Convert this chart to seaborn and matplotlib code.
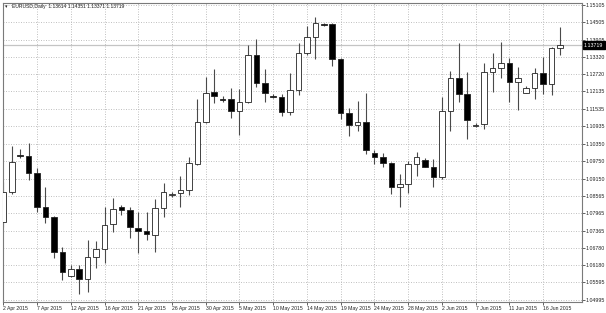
import numpy as np
import pandas as pd
import matplotlib
matplotlib.use("Agg")
import matplotlib.pyplot as plt
import matplotlib.transforms as mtransforms
import seaborn as sns

# ---------------- data (EURUSD daily, 2 Apr 2015 - 18 Jun 2015) ----------------
opens = [1.07665, 1.08692, 1.09959, 1.09925, 1.09342, 1.08178, 1.07836, 1.06637, 1.05816, 1.06055,
         1.05713, 1.06466, 1.06740, 1.07596, 1.08178, 1.08076, 1.07459, 1.07356, 1.07220, 1.08144,
         1.08589, 1.08658, 1.08760, 1.09651, 1.11089, 1.12116, 1.11876, 1.11876, 1.11465, 1.11773,
         1.13383, 1.12424, 1.11979, 1.11945, 1.11431, 1.12184, 1.13451, 1.13999, 1.14444, 1.14444,
         1.13246, 1.11397, 1.10986, 1.11089, 1.10027, 1.09890, 1.09685, 1.08863, 1.08966, 1.09651,
         1.09788, 1.09548, 1.09205, 1.11465, 1.12595, 1.12047, 1.10952, 1.11020, 1.12801, 1.12938,
         1.13109, 1.12458, 1.12082, 1.12253, 1.12766, 1.12390, 1.13614]
highs = [1.09034, 1.10267, 1.10164, 1.10370, 1.09514, 1.08863, 1.07870, 1.06809, 1.06192, 1.06192,
         1.07048, 1.07014, 1.08178, 1.08486, 1.08247, 1.08178, 1.08007, 1.08007, 1.08452, 1.09000,
         1.08692, 1.09240, 1.09890, 1.11876, 1.12629, 1.12903, 1.11979, 1.12253, 1.12219, 1.13725,
         1.13931, 1.12903, 1.12047, 1.12047, 1.12766, 1.13794, 1.14376, 1.14684, 1.14478, 1.14470,
         1.13280, 1.11568, 1.11808, 1.12082, 1.10130, 1.10027, 1.09719, 1.09308, 1.09753, 1.10061,
         1.09856, 1.09822, 1.11945, 1.12835, 1.13794, 1.12801, 1.11054, 1.13109, 1.13451, 1.13828,
         1.13280, 1.12972, 1.12321, 1.12938, 1.13314, 1.13640, 1.14351]
lows = [1.07493, 1.08623, 1.09856, 1.09103, 1.08007, 1.07630, 1.06432, 1.05679, 1.05781, 1.05199,
        1.05268, 1.06090, 1.06261, 1.07322, 1.07904, 1.07117, 1.06603, 1.07048, 1.06637, 1.07836,
        1.08521, 1.08178, 1.08589, 1.09616, 1.11054, 1.11739, 1.11773, 1.11226, 1.10644, 1.11739,
        1.12287, 1.11773, 1.11910, 1.11294, 1.11328, 1.12013, 1.13383, 1.13246, 1.14376, 1.13006,
        1.11191, 1.10609, 1.10781, 1.09993, 1.09651, 1.09548, 1.08623, 1.08178, 1.08658, 1.09240,
        1.09548, 1.08863, 1.09137, 1.10781, 1.11773, 1.10507, 1.10917, 1.10849, 1.12116, 1.12595,
        1.11773, 1.11500, 1.12070, 1.11876, 1.12047, 1.12013, 1.13371]
closes = [1.08692, 1.09719, 1.09925, 1.09342, 1.08178, 1.07836, 1.06637, 1.05953, 1.06055, 1.05713,
          1.06466, 1.06740, 1.07562, 1.08110, 1.08076, 1.07493, 1.07356, 1.07254, 1.08144, 1.08692,
          1.08623, 1.08760, 1.09685, 1.11089, 1.12082, 1.11979, 1.11842, 1.11465, 1.11773, 1.13383,
          1.12424, 1.12082, 1.11945, 1.11431, 1.12184, 1.13451, 1.13999, 1.14478, 1.14410, 1.13246,
          1.11397, 1.10986, 1.11089, 1.10130, 1.09890, 1.09685, 1.08863, 1.08966, 1.09651, 1.09890,
          1.09560, 1.09205, 1.11465, 1.12595, 1.12047, 1.11157, 1.10986, 1.12801, 1.12938, 1.13109,
          1.12458, 1.12595, 1.12253, 1.12766, 1.12390, 1.13622, 1.13719]

date_tick_bars = [0, 4, 8, 12, 16, 20, 24, 28, 32, 36, 40, 44, 48, 52, 56, 60, 64]
date_tick_labels = ["2 Apr 2015", "7 Apr 2015", "12 Apr 2015", "16 Apr 2015", "21 Apr 2015",
                    "26 Apr 2015", "30 Apr 2015", "5 May 2015", "10 May 2015", "14 May 2015",
                    "19 May 2015", "24 May 2015", "28 May 2015", "2 Jun 2015", "7 Jun 2015",
                    "11 Jun 2015", "16 Jun 2015"]
price_ticks = [1.15105, 1.14505, 1.13905, 1.13320, 1.12720, 1.12135, 1.11535, 1.10935, 1.10350,
               1.09750, 1.09150, 1.08565, 1.07965, 1.07365, 1.06780, 1.06180, 1.05595, 1.04995]
symbol_label = "EURUSD,Daily"

df = pd.DataFrame({"open": opens, "high": highs, "low": lows, "close": closes})
df["bar"] = np.arange(len(df))
df["bull"] = df["close"] >= df["open"]
df["body_lo"] = df[["open", "close"]].min(axis=1)
df["body_h"] = (df["close"] - df["open"]).abs()

# ---------------- style ----------------
sns.set_theme(style="white")
plt.rcParams["font.family"] = ["Liberation Sans", "DejaVu Sans"]

W, H = 606, 313
fig = plt.figure(figsize=(W / 100, H / 100), dpi=100)
fig.patch.set_facecolor("white")
left, right, top, bottom = 2.7, 581.7, 2.7, 301.7
ax = fig.add_axes([left / W, 1 - bottom / H, (right - left) / W, (bottom - top) / H])
ax.set_facecolor("white")

# grid
ax.set_axisbelow(True)
ax.grid(True, color="#b8b8b8", linestyle=(0, (1.2, 1.8)), linewidth=0.6)

# last price line
ax.axhline(closes[-1], color="#c4c4c4", linewidth=0.9, zorder=1)

# wicks
ax.vlines(df["bar"], df["low"], df["high"], color="#4a4a4a", linewidth=0.8, zorder=2)
# bodies
colors = np.where(df["bull"], "white", "black")
ax.bar(df["bar"], df["body_h"], bottom=df["body_lo"], width=0.66,
       color=colors, edgecolor="#222222", linewidth=0.6, zorder=3)

ax.set_xlim(-0.07, 68.57)
ax.set_ylim(1.04936, 1.15173)

# axes formatting
ax.set_xticks(date_tick_bars)
ax.set_xticklabels(date_tick_labels, ha="left")
ax.set_yticks(price_ticks)
ax.set_yticklabels([f"{v:.5f}" for v in price_ticks])
ax.yaxis.tick_right()
ax.tick_params(axis="y", which="both", right=True, left=False, length=2, width=0.5,
               pad=1, labelsize=3.8, colors="#222222")
ax.tick_params(axis="x", which="both", bottom=True, length=2, width=0.5,
               pad=1, labelsize=3.7, colors="#222222")
for s in ax.spines.values():
    s.set_visible(True)
    s.set_color("#7a7a7a")
    s.set_linewidth(0.8)

# last price box
trans = mtransforms.blended_transform_factory(ax.transAxes, ax.transData)
ax.text(1.004, closes[-1], f"{closes[-1]:.5f}", transform=trans, ha="left", va="center",
        fontsize=3.8, color="white", zorder=10, clip_on=False,
        bbox=dict(boxstyle="square,pad=0.25", facecolor="black", edgecolor="black"))

# header
header = f"{symbol_label}  {opens[-1]:.5f} {highs[-1]:.5f} {lows[-1]:.5f} {closes[-1]:.5f}"
fig.text(5 / W, 1 - 6.8 / H, "\u25BE", fontsize=3.6, va="center", ha="left",
         family=["DejaVu Sans"], color="#222222")
fig.text(11.5 / W, 1 - 6.8 / H, header, fontsize=3.6, va="center", ha="left", color="#222222")

fig.savefig("out.png", dpi=100)
